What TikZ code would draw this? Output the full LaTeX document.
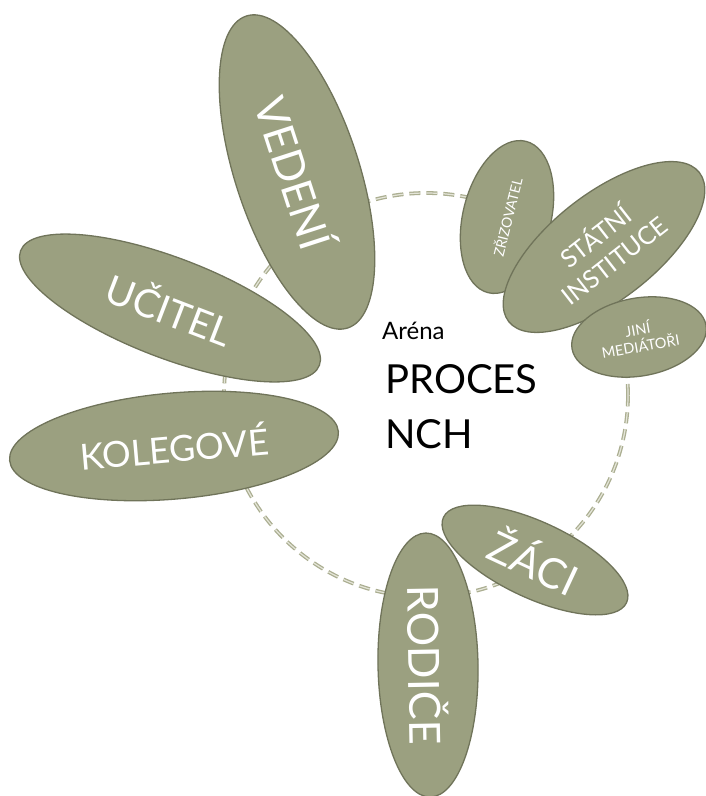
\documentclass[tikz,border=0pt]{standalone}
\usepackage{fontspec}
\setmainfont{Lato}
\usetikzlibrary{shapes.geometric}
\definecolor{petalfill}{HTML}{9BA080}
\definecolor{petaldraw}{HTML}{70745A}
\definecolor{ringline}{HTML}{ABAE91}
\definecolor{ringmid}{HTML}{E4E5D8}
\newcommand\petalfont[2]{\fontsize{#1bp}{#2bp}\selectfont}

\begin{document}
\begin{tikzpicture}
	[x=1bp,y=1bp,
	ring/.style={circle,draw=ringline,double=ringmid,double distance=1.2bp,line width=1.3bp,dash pattern=on 11bp off 6bp,inner sep=0pt},
	petal/.style={ellipse,draw=petaldraw,fill=petalfill,line width=1.3bp,inner sep=0pt,text=white,align=center},
	arena/.style={anchor=base west,inner sep=0pt}]
	
	\useasboundingbox (0,0) rectangle (706,-796);
	
	\node[ring,minimum size=404bp] (kruh) at (426,-395) {};
	
	\node[petal,minimum width=328bp,minimum height=124bp,rotate=-72,font=\petalfont{43}{50}] (vedeni) at (297,-172) {VEDENÍ};
	\node[petal,minimum width=320bp,minimum height=100bp,rotate=-21,font=\petalfont{39}{44}] (ucitel) at (170,-308) {UČITEL};
	\node[petal,minimum width=330bp,minimum height=106bp,rotate=5,font=\petalfont{36}{43}] (kolegove) at (174,-446) {KOLEGOVÉ};
	\node[petal,minimum width=264bp,minimum height=100bp,rotate=-89,font=\petalfont{43}{50}] (rodice) at (428,-665) {RODIČE};
	\node[petal,minimum width=202bp,minimum height=76bp,rotate=-25,font=\petalfont{42}{50}] (zaci) at (535,-560) {ŽÁCI};
	\node[petal,minimum width=156bp,minimum height=88bp,rotate=76,font=\petalfont{14}{17}] (zrizovatel) at (507,-217) {ZŘIZOVATEL};
	\node[petal,minimum width=242bp,minimum height=106bp,rotate=38,font=\petalfont{25}{30}] (statni) at (604,-247) {STÁTNÍ\\INSTITUCE};
	\node[petal,minimum width=136bp,minimum height=78bp,rotate=10,font=\petalfont{14.5}{17}] (mediatori) at (639,-337) {JINÍ\\MEDIÁTOŘI};
	
	\node[arena,font=\petalfont{24}{28}] (arena) at (382,-339) {Aréna};
	\node[arena,font=\petalfont{40}{46}] (proces) at (385,-393) {PROCES};
	\node[arena,font=\petalfont{40}{46}] (nch) at (385,-448) {NCH};
\end{tikzpicture}
\end{document}
